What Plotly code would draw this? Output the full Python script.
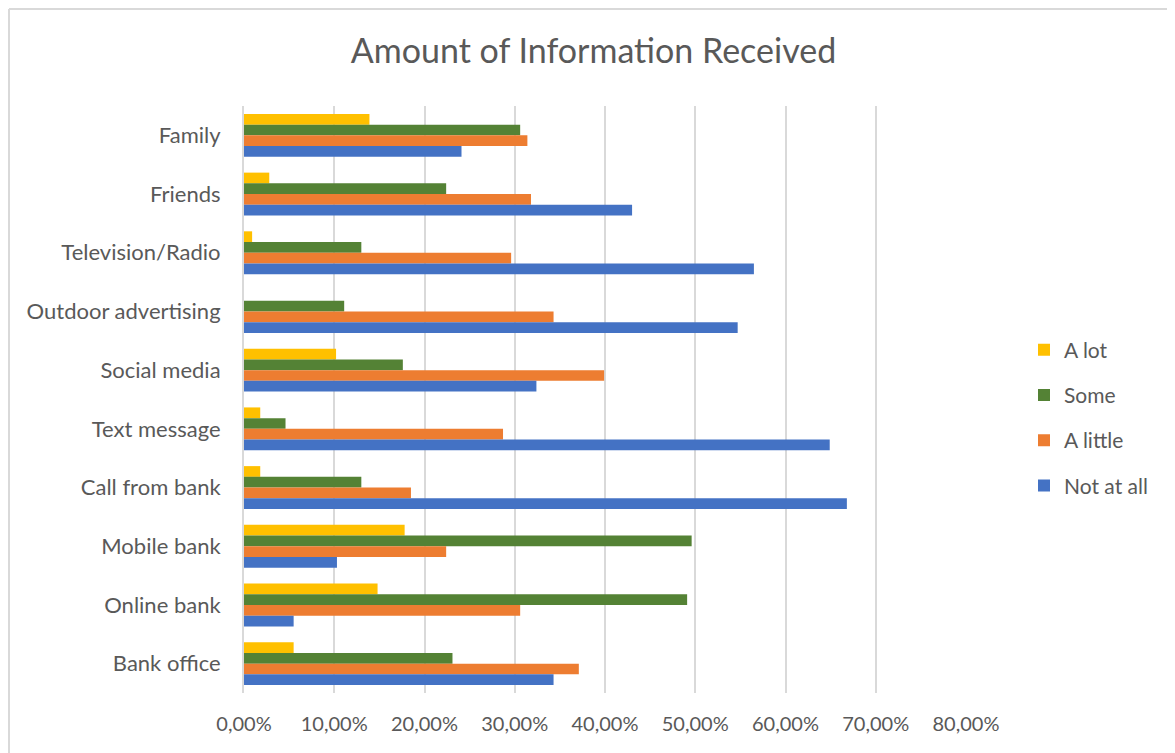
import plotly.graph_objects as go

categories = ["Family", "Friends", "Television/Radio", "Outdoor advertising", "Social media",
              "Text message", "Call from bank", "Mobile bank", "Online bank", "Bank office"]
a_lot = [0.139, 0.028, 0.009, 0.0, 0.102, 0.018, 0.018, 0.178, 0.148, 0.055]
some = [0.306, 0.224, 0.130, 0.111, 0.176, 0.046, 0.130, 0.496, 0.491, 0.231]
a_little = [0.314, 0.318, 0.296, 0.343, 0.399, 0.287, 0.185, 0.224, 0.306, 0.371]
not_at_all = [0.241, 0.430, 0.565, 0.547, 0.324, 0.649, 0.668, 0.103, 0.055, 0.343]

series = [("A lot", a_lot, "#FFC000"),
          ("Some", some, "#548235"),
          ("A little", a_little, "#ED7D31"),
          ("Not at all", not_at_all, "#4472C4")]

FONT = "Lato, 'Open Sans', sans-serif"
GREY = "#595959"

fig = go.Figure()
for name, vals, col in series:
    fig.add_trace(go.Bar(
        y=categories, x=vals, name=name, orientation="h",
        marker=dict(color=col, line=dict(width=0)),
        legendgroup=name,
    ))

OFF = 8  # page body margin
W, H = 1175 - OFF, 753 - OFF
# desired positions in window pixels
L_abs, R_abs, T_abs, B_abs = 244, 966, 106, 693
L = L_abs - OFF
T = T_abs - OFF
R = W - (R_abs - OFF)
B = H - (B_abs - OFF)
pw = W - L - R
ph = H - T - B

def px_x(p):
    return (p - OFF - L) / pw

def px_y(p):
    return (H - B - (p - OFF)) / ph

fig.update_layout(
    width=W, height=H,
    margin=dict(l=L, r=R, t=T, b=B),
    paper_bgcolor="white", plot_bgcolor="white",
    separators=",.",
    barmode="group", bargap=0.27, bargroupgap=0,
    font=dict(family=FONT, color=GREY, size=20),
    title=dict(text="Amount of Information Received", x=px_x(593.5), xanchor="center",
               xref="paper", y=1 - (51 - OFF) / H, yanchor="middle",
               font=dict(family=FONT, size=34, color=GREY)),
    xaxis=dict(range=[0, 0.8], dtick=0.1, tickformat=".2%",
               showgrid=True, gridcolor="#D9D9D9", gridwidth=2,
               zeroline=False, showline=False, ticks="",
               ticklabelstandoff=17,
               tickfont=dict(family=FONT, size=20, color=GREY)),
    yaxis=dict(autorange="reversed", showgrid=False, zeroline=False,
               showline=True, linecolor="#D9D9D9", linewidth=2,
               ticks="", ticklabelstandoff=17,
               tickfont=dict(family=FONT, size=22, color=GREY)),
    legend=dict(traceorder="grouped", x=px_x(1024), xanchor="left",
                y=px_y(418), yanchor="middle", tracegroupgap=15,
                font=dict(family=FONT, size=21, color=GREY),
                itemwidth=30, bgcolor="rgba(0,0,0,0)"),
    showlegend=True,
    shapes=[
        dict(type="line", xref="paper", yref="paper",
             x0=px_x(9), x1=px_x(1175), y0=px_y(9), y1=px_y(9),
             line=dict(color="#D9D9D9", width=2)),
        dict(type="line", xref="paper", yref="paper",
             x0=px_x(9), x1=px_x(9), y0=px_y(9), y1=px_y(753),
             line=dict(color="#D9D9D9", width=2)),
    ],
)

fig.write_html("out.html")
